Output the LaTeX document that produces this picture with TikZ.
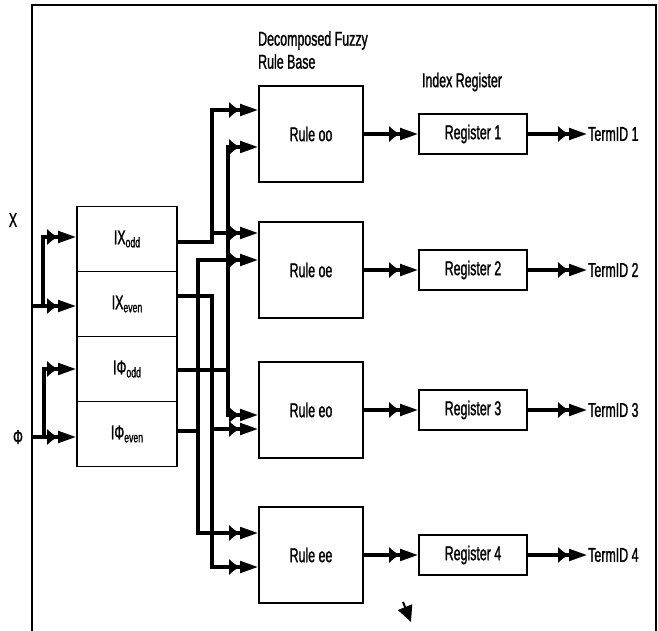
\documentclass[tikz,border=0pt]{standalone}
\usepackage{fontspec}
\setmainfont{Liberation Sans}[FakeStretch=0.62, FakeBold=1.2]
\usetikzlibrary{positioning, arrows.meta}
\newcommand{\lowtxt}[1]{\raisebox{-3pt}{\fontsize{14}{14}\selectfont #1}}

\begin{document}
\begin{tikzpicture}
          [x=1pt, y=-1pt, font=\fontsize{20}{23}\selectfont,
           box/.style={draw, line width=1.2pt, inner sep=0pt, outer sep=0pt},
           blk/.style={box, minimum width=100pt, minimum height=65pt},
           rulebox/.style={box, minimum width=104pt, minimum height=96pt},
           regbox/.style={box, minimum width=108pt, minimum height=40pt},
           lbl/.style={inner sep=0pt},
           wire/.style={line width=4.5pt, -{Latex[length=11pt,width=17pt]Triangle[length=19pt,width=11pt]}}]
            \useasboundingbox (0,0) rectangle (658,631);
            \draw[line width=1.5pt] (32,631) |- (656,5) -- (656,631);

            % headings
            \node (hdrbase) [lbl, anchor=west, align=left] at (258,50) {Decomposed Fuzzy\\Rule Base};
            \node (hdrindex) [lbl] at (462,82) {Index Register};

            % index blocks
            \node (ixo) [blk] at (127,239) {IX\lowtxt{odd}};
            \node (ixe) [blk, below=0pt of ixo] {IX\lowtxt{even}};
            \node (ipo) [blk, below=0pt of ixe] {IΦ\lowtxt{odd}};
            \node (ipe) [blk, below=0pt of ipo] {IΦ\lowtxt{even}};

            % inputs
            \node (xlbl) [lbl] at (13,220) {X};
            \node (plbl) [lbl] at (18,437) {Φ};
            \coordinate (xin) at (32,306);
            \coordinate (xsplit) at (43,306);
            \coordinate (pin) at (32,437);
            \coordinate (psplit) at (44,437);
            \draw[wire] (xin) -- (xin -| ixe.west);
            \draw[wire] (xsplit) |- ([yshift=2pt]ixo.west);
            \draw[wire] (pin) -- (pin -| ipe.west);
            \draw[wire] (psplit) |- (ipo.west);

            % rule base
            \node (roo) [rulebox] at (311,134) {Rule oo};
            \node (roe) [rulebox] at (311,270) {Rule oe};
            \node (reo) [rulebox] at (311,410) {Rule eo};
            \node (ree) [rulebox] at (311,555) {Rule ee};

            % buses and ports
            \coordinate (busxo) at (212,0);
            \coordinate (busxe) at (212,0);
            \coordinate (buspe) at (198,0);
            \coordinate (buspo) at (228,0);
            \coordinate (xo-out) at ([yshift=-3pt]ixo.east);
            \coordinate (xe-out) at ([yshift=8pt]ixe.east);
            \coordinate (po-out) at ([yshift=-1pt]ipo.east);
            \coordinate (pe-out) at ([yshift=3pt]ipe.east);
            \coordinate (oo-x) at ([yshift=24pt]roo.west);
            \coordinate (oo-p) at ([yshift=-13pt]roo.west);
            \coordinate (oe-x) at ([yshift=37pt]roe.west);
            \coordinate (oe-p) at ([yshift=10pt]roe.west);
            \coordinate (eo-p) at ([yshift=-5pt]reo.west);
            \coordinate (eo-x) at ([yshift=-19pt]reo.west);
            \coordinate (ee-p) at ([yshift=22pt]ree.west);
            \coordinate (ee-x) at ([yshift=-12pt]ree.west);

            \draw[wire] (xo-out) -| (busxo |- oo-x) -- (oo-x);
            \draw[wire] (busxo |- oe-x) -- (oe-x);
            \draw[wire] (xe-out) -| (busxe |- ee-x) -- (ee-x);
            \draw[wire] (busxe |- eo-x) -- (eo-x);
            \draw[wire] (po-out) -| (buspo |- eo-p) -- (eo-p);
            \draw[wire] (po-out -| buspo) |- (oo-p);
            \draw[wire] (pe-out) -| (buspe |- ee-p) -- (ee-p);
            \draw[wire] (pe-out -| buspe) |- (oe-p);

            % index registers
            \node (reg1) [regbox, right=56pt of roo] {Register 1};
            \node (reg2) [regbox, right=56pt of roe] {Register 2};
            \node (reg3) [regbox, right=56pt of reo] {Register 3};
            \node (reg4) [regbox, right=56pt of ree] {Register 4};
            \node (term1) [lbl, right=61pt of reg1] {TermID 1};
            \node (term2) [lbl, right=61pt of reg2] {TermID 2};
            \node (term3) [lbl, right=61pt of reg3] {TermID 3};
            \node (term4) [lbl, right=61pt of reg4] {TermID 4};

            \draw[wire] (roo) -- (reg1);
            \draw[wire] (roe) -- (reg2);
            \draw[wire] (reo) -- (reg3);
            \draw[wire] (ree) -- (reg4);
            \draw[wire] (reg1) -- (term1);
            \draw[wire] (reg2) -- (term2);
            \draw[wire] (reg3) -- (term3);
            \draw[wire] (reg4) -- (term4);

            % stray arrow
            \coordinate (strayA) at (403,602);
            \coordinate (strayB) at (411,622);
            \draw[line width=2pt, -{Triangle[length=16pt,width=15pt]}] (strayA) -- (strayB);
        \end{tikzpicture}
\end{document}
